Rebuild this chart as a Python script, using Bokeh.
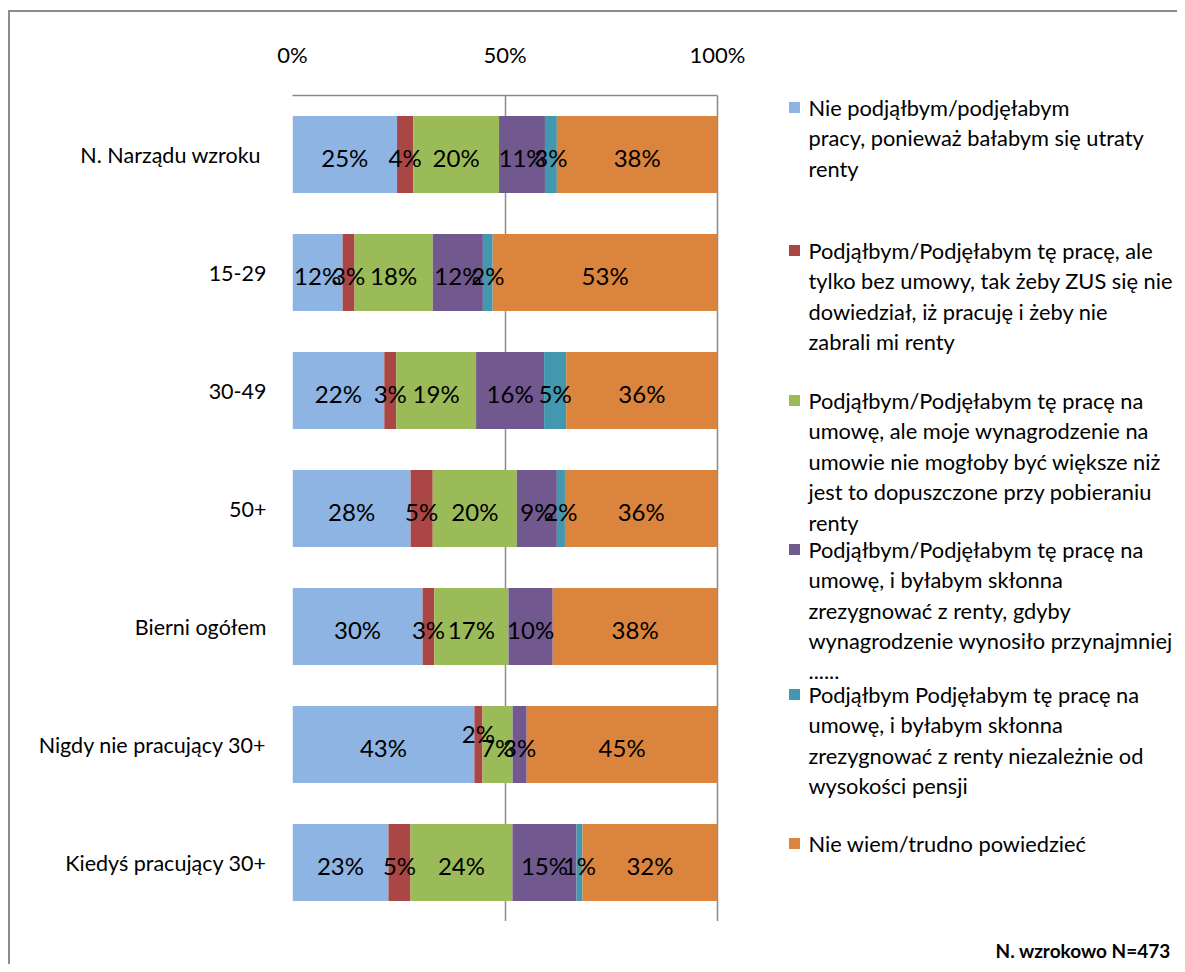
from bokeh.plotting import figure
from bokeh.layouts import column
from bokeh.models import ColumnDataSource, FactorRange, Range1d, FixedTicker, PrintfTickFormatter
from bokeh.core.properties import value
from bokeh.embed import file_html
from bokeh.resources import INLINE

# ---------------- data ----------------
categories = ["N. Narządu wzroku ", "15-29", "30-49", "50+", "Bierni ogółem",
              "Nigdy nie pracujący 30+", "Kiedyś pracujący 30+"]

series_names = [
    "Nie podjąłbym/podjęłabym\npracy, ponieważ bałabym się utraty\nrenty",
    "Podjąłbym/Podjęłabym tę pracę, ale\ntylko bez umowy, tak żeby ZUS się nie\ndowiedział, iż pracuję  i żeby nie\nzabrali mi renty",
    "Podjąłbym/Podjęłabym tę pracę na\numowę, ale moje wynagrodzenie na\numowie nie mogłoby być  większe niż\njest to dopuszczone  przy pobieraniu\nrenty",
    "Podjąłbym/Podjęłabym tę pracę na\numowę, i byłabym skłonna\nzrezygnować z renty,  gdyby\nwynagrodzenie wynosiło przynajmniej\n......",
    "Podjąłbym Podjęłabym  tę pracę na\numowę, i byłabym skłonna\nzrezygnować z renty niezależnie od\nwysokości pensji",
    "Nie wiem/trudno powiedzieć",
]

s_nie_podjalbym = [24.6, 11.8, 21.6, 27.8, 30.0, 42.8, 22.6]
s_bez_umowy     = [3.8, 2.8, 2.8, 5.2, 2.7, 1.9, 5.2]
s_na_umowe      = [20.2, 18.4, 18.8, 19.8, 17.1, 7.1, 24.0]
s_gdyby         = [10.8, 11.8, 16.0, 9.4, 10.2, 3.3, 15.1]
s_niezaleznie   = [2.8, 2.3, 5.2, 1.9, 0.0, 0.0, 1.4]
s_nie_wiem      = [37.8, 52.9, 35.6, 35.9, 38.0, 44.9, 31.8]

tick_values = [0, 50, 100]
footer_text = "N. wzrokowo N=473"

# ---------------- style ----------------
colors = ["#8EB4E3", "#AA4643", "#9BBB59", "#71588F", "#4198AF", "#DB843D"]
FONT = "Lato"
GRID = "#8a8a8a"
BORDER = "#8c8c8c"

W, H = 1177, 964
FR_LEFT, FR_TOP, FR_BOTTOM = 292, 95, 921          # frame position on canvas
PX_PER_100 = 425.0                                  # pixels for 0..100 %
x_max = (W - FR_LEFT) / PX_PER_100 * 100
n_cat = len(categories)
px_per_cat = (FR_BOTTOM - FR_TOP) / n_cat

def px_to_x(px):   # canvas px -> data x
    return (px - FR_LEFT) / PX_PER_100 * 100

def px_to_y(py):   # canvas px -> synthetic y
    return n_cat - (py - FR_TOP) / px_per_cat

all_series = [s_nie_podjalbym, s_bez_umowy, s_na_umowe, s_gdyby, s_niezaleznie, s_nie_wiem]
cols = ["s%d" % i for i in range(len(all_series))]

totals = [sum(s[i] for s in all_series) for i in range(n_cat)]
data = {"cat": categories}
for c, s in zip(cols, all_series):
    data[c] = [v / t * 100 for v, t in zip(s, totals)]
source = ColumnDataSource(data)

p = figure(width=W, height=FR_BOTTOM,
           y_range=FactorRange(*reversed(categories)),
           x_range=Range1d(0, x_max),
           x_axis_location="above",
           output_backend="svg", toolbar_location=None,
           min_border_left=FR_LEFT, min_border_right=0,
           min_border_top=FR_TOP, min_border_bottom=0)
p.outline_line_color = None
p.border_fill_alpha = 0
p.background_fill_color = "white"

p.hbar_stack(stackers=cols, y="cat", height=0.653, fill_color=colors,
             line_color=None, source=source)

# bar labels
lx, ly, lt, lo = [], [], [], []
label_nudge = {(5, 1): -14}   # "2%" label raised in the reference
for i, cat in enumerate(categories):
    left = 0.0
    for k, c in enumerate(cols):
        w = data[c][i]
        raw = all_series[k][i]
        if raw > 0:
            lx.append(left + w / 2)
            ly.append(cat)
            lt.append("%d%%" % round(raw))
            lo.append(3 + label_nudge.get((i, k), 0))
        left += w
p.text(x="x", y="y", text="t", y_offset="o",
       source=ColumnDataSource(dict(x=lx, y=ly, t=lt, o=lo)),
       text_align="center", text_baseline="middle",
       text_font=value(FONT), text_font_size="24px", text_color="black")

# axes
p.xaxis.ticker = FixedTicker(ticks=tick_values)
p.xaxis.formatter = PrintfTickFormatter(format="%d%%")
p.xaxis.bounds = (0, 100)
p.xaxis.axis_line_color = GRID
p.xaxis.axis_line_width = 1.5
p.xaxis.major_tick_out = 0
p.xaxis.major_tick_in = 0
p.xaxis.minor_tick_out = 0
p.xaxis.minor_tick_in = 0
p.xaxis.major_label_standoff = 28
p.xaxis.major_label_text_font = FONT
p.xaxis.major_label_text_font_size = "22px"
p.xaxis.major_label_text_color = "black"

p.yaxis.axis_line_color = None
p.yaxis.major_tick_out = 0
p.yaxis.major_tick_in = 0
p.yaxis.major_label_standoff = 26
p.yaxis.major_label_text_font = FONT
p.yaxis.major_label_text_font_size = "21.5px"
p.yaxis.major_label_text_color = "black"

p.ygrid.visible = False
p.xgrid.ticker = FixedTicker(ticks=tick_values)
p.xgrid.grid_line_color = GRID
p.xgrid.grid_line_width = 1.5

# legend (manual, inside the wide frame)
item_top_px = [107, 250, 400, 549, 694, 843]
line_step = 30.4
sq_x, sq_y = [], []
tx, ty, tt = [], [], []
for k, name in enumerate(series_names):
    y0 = item_top_px[k]
    sq_x.append(px_to_x(794))
    sq_y.append(px_to_y(y0))
    for j, line in enumerate(name.split("\n")):
        tx.append(px_to_x(808))
        ty.append(px_to_y(y0 + j * line_step))
        tt.append(line)
p.scatter(x=sq_x, y=sq_y, marker="square", size=11, fill_color=colors, line_color=None)
p.text(x=tx, y=ty, text=tt, text_align="left", text_baseline="middle",
       text_font=value(FONT), text_font_size="21.8px", text_color="black")

# footer strip (its own small figure below the chart)
FOOT_H = H - FR_BOTTOM
f = figure(width=W, height=FOOT_H, x_range=Range1d(0, W), y_range=Range1d(FOOT_H, 0),
           x_axis_location=None, y_axis_location=None,
           output_backend="svg", toolbar_location=None, min_border=0)
f.outline_line_color = None
f.border_fill_alpha = 0
f.background_fill_alpha = 0
f.grid.visible = False
f.text(x=[1168], y=[950 - FR_BOTTOM], text=[footer_text], text_align="right",
       text_baseline="middle", text_font=value(FONT), text_font_size="19px",
       text_font_style="bold", text_color="black")

layout = column(p, f, spacing=0)
layout.styles = {"background": (
    "linear-gradient(%s,%s) 8px 10px / 2px 3000px no-repeat, "
    "linear-gradient(%s,%s) 8px 10px / 3000px 2px no-repeat, white") % (BORDER, BORDER, BORDER, BORDER)}

open("out.html", "w").write(file_html(layout, INLINE))
